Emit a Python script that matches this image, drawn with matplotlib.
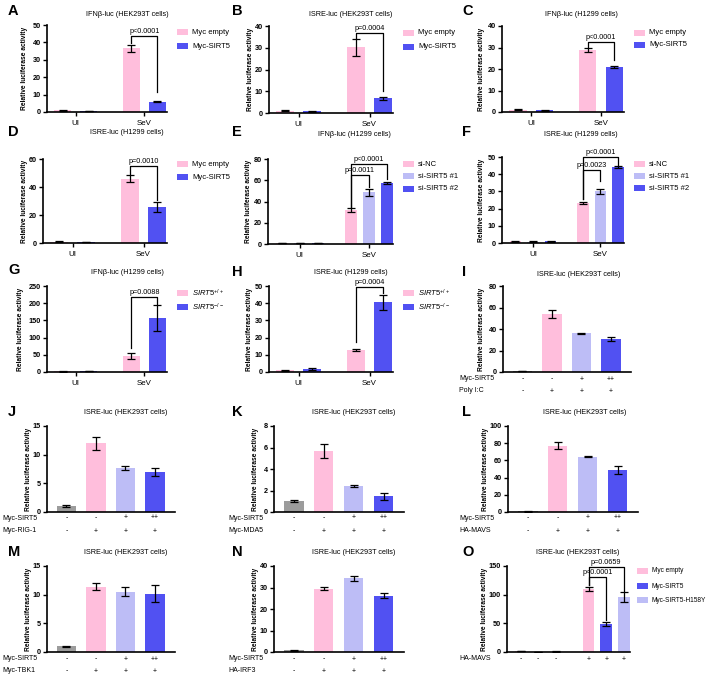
import matplotlib
matplotlib.use('Agg')
import matplotlib.pyplot as plt
from matplotlib.patches import Rectangle
from matplotlib.transforms import blended_transform_factory
import numpy as np

plt.rcParams['font.family'] = ['Liberation Sans', 'DejaVu Sans']
plt.rcParams['mathtext.fontset'] = 'custom'
plt.rcParams['mathtext.rm'] = 'Liberation Sans'
plt.rcParams['mathtext.it'] = 'Liberation Sans:italic'

W, H = 709, 676
fig = plt.figure(figsize=(W / 100, H / 100), dpi=100)

PINK = '#FFBEDC'
LAV = '#BDBDF6'
BLUE = '#5151F2'
GRAY = '#9C9C9C'

# ---------------- data ----------------
groups = ['UI', 'SeV']
ylabel = 'Relative luciferase activity'

# A  IFNb-luc HEK293T
A_empty = [1.0, 36.5]
A_empty_err = [0.2, 2.2]
A_sirt5 = [0.7, 6.0]
A_sirt5_err = [0.15, 0.5]
# B  ISRE-luc HEK293T
B_empty = [1.0, 30.2]
B_empty_err = [0.2, 3.8]
B_sirt5 = [0.8, 6.7]
B_sirt5_err = [0.15, 0.5]
# C  IFNb-luc H1299
C_empty = [1.0, 28.8]
C_empty_err = [0.2, 0.8]
C_sirt5 = [0.7, 21.0]
C_sirt5_err = [0.15, 0.4]
# D  ISRE-luc H1299
D_empty = [1.0, 46.0]
D_empty_err = [0.2, 2.5]
D_sirt5 = [0.8, 26.0]
D_sirt5_err = [0.15, 3.5]
# E  IFNb-luc H1299 siRNA
E_nc = [1.0, 32.0]
E_nc_err = [0.2, 1.5]
E_si1 = [1.0, 48.5]
E_si1_err = [0.2, 3.5]
E_si2 = [1.2, 57.5]
E_si2_err = [0.2, 1.0]
# F  ISRE-luc H1299 siRNA
F_nc = [1.0, 23.2]
F_nc_err = [0.2, 0.7]
F_si1 = [0.8, 30.0]
F_si1_err = [0.2, 1.6]
F_si2 = [1.0, 44.2]
F_si2_err = [0.2, 0.6]
# G  IFNb-luc H1299 KO
G_wt = [1.5, 47.0]
G_wt_err = [0.3, 9.0]
G_ko = [2.0, 156.0]
G_ko_err = [0.4, 38.0]
# H  ISRE-luc H1299 KO
H_wt = [1.0, 13.0]
H_wt_err = [0.2, 0.5]
H_ko = [1.8, 40.5]
H_ko_err = [0.4, 4.5]

# 4-bar panels (I..N)
I_vals = [0.8, 54.0, 36.0, 30.5]
I_err = [0.3, 3.5, 0.3, 1.6]
J_vals = [1.0, 12.0, 7.65, 7.0]
J_err = [0.2, 1.1, 0.35, 0.7]
K_vals = [1.0, 5.65, 2.4, 1.45]
K_err = [0.08, 0.65, 0.12, 0.3]
L_vals = [0.8, 77.0, 64.0, 49.0]
L_err = [0.3, 4.0, 0.6, 5.0]
M_vals = [1.0, 11.4, 10.5, 10.2]
M_err = [0.12, 0.6, 0.8, 1.4]
N_vals = [0.8, 29.5, 34.3, 26.2]
N_err = [0.2, 0.8, 1.2, 1.1]
sirt5_row = ['-', '-', '+', '++']
stim_row = ['-', '+', '+', '+']

# O
O_groups = ['-', '+']
O_empty = [1.5, 110.0]
O_empty_err = [0.3, 4.0]
O_sirt5 = [0.4, 49.0]
O_sirt5_err = [0.2, 4.0]
O_mut = [0.8, 96.0]
O_mut_err = [0.2, 9.0]


# ---------------- helpers ----------------
def px_ax(l, t, r, b, ylim, yticks, lab_off=17):
    ax = fig.add_axes([l / W, 1 - b / H, (r - l) / W, (b - t) / H])
    for s in ['top', 'right']:
        ax.spines[s].set_visible(False)
    for s in ['left', 'bottom']:
        ax.spines[s].set_linewidth(1.2)
    ax.set_ylim(*ylim)
    ax.set_yticks(yticks)
    ax.set_yticklabels([str(t) for t in yticks], fontsize=5.2, fontweight='bold')
    ax.tick_params(axis='y', length=3, width=1, pad=1.5)
    ax.tick_params(axis='x', length=3, width=1, pad=2.5, labelsize=5.7)
    ax.set_ylabel(ylabel, fontsize=4.8, fontweight='bold')
    ax.yaxis.set_label_coords(-lab_off / (r - l), 0.5)
    return ax


def bars(ax, x, vals, errs, color, width):
    ax.bar(x, vals, width, color=color, zorder=2, linewidth=0)
    ax.errorbar(x, vals, yerr=errs, fmt='none', ecolor='black', elinewidth=0.9,
                capsize=2.6, capthick=0.9, zorder=3)


def grouped(ax, series, colors, offsets, width, xlim):
    x = np.arange(len(groups))
    for (v, e), c, o in zip(series, colors, offsets):
        bars(ax, x + o, v, e, c, width)
    ax.set_xlim(*xlim)
    ax.set_xticks(x)
    ax.set_xticklabels(groups)


def bracket(ax, x1, x2, y, y1, y2, text, dy):
    ax.plot([x1, x1, x2, x2], [y1, y, y, y2], color='black', lw=0.9, clip_on=False,
            zorder=4)
    ax.text((x1 + x2) / 2, y + dy, text, ha='center', va='bottom', fontsize=5.2,
            clip_on=False)


def legend(x, ys, colors, labels, w=11, h=6, fs=5.5):
    for y, c, lab in zip(ys, colors, labels):
        fig.add_artist(Rectangle((x / W, 1 - (y + h / 2) / H), w / W, h / H,
                                 transform=fig.transFigure, color=c, lw=0))
        fig.text((x + w + 4) / W, 1 - y / H, lab, fontsize=fs, va='center',
                 ha='left')


def title(cx, y, s):
    fig.text(cx / W, 1 - y / H, s, fontsize=5.2, ha='center', va='center')


def letter(x, y, s):
    fig.text(x / W, 1 - y / H, s, fontsize=10.5, fontweight='bold', ha='left',
             va='center')


def table(ax, xs, rows, names, ys, lx):
    tr = blended_transform_factory(ax.transData, fig.transFigure)
    for row, name, y in zip(rows, names, ys):
        fig.text(lx / W, 1 - y / H, name, fontsize=5.0, ha='left', va='center')
        for xx, m in zip(xs, row):
            ax.text(xx, 1 - y / H, m, transform=tr, fontsize=5.0, ha='center',
                    va='center')


two_off = [-0.19, 0.19]
two_w = 0.25
two_xlim = (-0.42, 1.33)
three_off = [-0.26, 0.0, 0.26]
three_w = 0.17
three_xlim = (-0.46, 1.35)

# ---------------- Row 1 ----------------
letter(8, 11, 'A')
title(127, 14, 'IFNβ-luc (HEK293T cells)')
ax = px_ax(47, 25, 167, 112, (0, 50), [0, 10, 20, 30, 40, 50], 19)
grouped(ax, [(A_empty, A_empty_err), (A_sirt5, A_sirt5_err)], [PINK, BLUE],
        two_off, two_w, two_xlim)
bracket(ax, 1 - 0.19, 1 + 0.19, 43.7, 39.8, 11.7, 'p<0.0001', 0.6)
legend(177, [32, 46], [PINK, BLUE], ['Myc empty', 'Myc-SIRT5'])

letter(232, 11, 'B')
title(351, 14, 'ISRE-luc (HEK293T cells)')
ax = px_ax(269, 26, 393, 113, (0, 40), [0, 10, 20, 30, 40], 15)
grouped(ax, [(B_empty, B_empty_err), (B_sirt5, B_sirt5_err)], [PINK, BLUE],
        two_off, two_w, two_xlim)
bracket(ax, 1 - 0.19, 1 + 0.19, 36.9, 34.6, 10.3, 'p=0.0004', 0.5)
legend(403, [33, 47], [PINK, BLUE], ['Myc empty', 'Myc-SIRT5'])

letter(462, 11, 'C')
title(581, 14, 'IFNβ-luc (H1299 cells)')
ax = px_ax(502, 26, 624, 112, (0, 40), [0, 10, 20, 30, 40], 17)
grouped(ax, [(C_empty, C_empty_err), (C_sirt5, C_sirt5_err)], [PINK, BLUE],
        two_off, two_w, two_xlim)
bracket(ax, 1 - 0.19, 1 + 0.19, 32.7, 30.3, 24.2, 'p<0.0001', 0.5)
legend(634, [33, 45], [PINK, BLUE], ['Myc empty', 'Myc-SIRT5'])

# ---------------- Row 2 ----------------
letter(8, 132, 'D')
title(127, 133, 'ISRE-luc (H1299 cells)')
ax = px_ax(43, 159, 167, 243, (0, 60), [0, 20, 40, 60], 15)
grouped(ax, [(D_empty, D_empty_err), (D_sirt5, D_sirt5_err)], [PINK, BLUE],
        two_off, two_w, two_xlim)
bracket(ax, 1 - 0.19, 1 + 0.19, 55.0, 49.5, 30.5, 'p=0.0010', 0.8)
legend(177, [164, 177], [PINK, BLUE], ['Myc empty', 'Myc-SIRT5'])

letter(232, 132, 'E')
title(354, 134, 'IFNβ-luc (H1299 cells)')
ax = px_ax(268, 159, 393, 244, (0, 80), [0, 20, 40, 60, 80], 16)
grouped(ax, [(E_nc, E_nc_err), (E_si1, E_si1_err), (E_si2, E_si2_err)],
        [PINK, LAV, BLUE], three_off, three_w, three_xlim)
bracket(ax, 1 - 0.26, 1.26, 75.0, 35.0, 61.0, 'p<0.0001', 1.0)
bracket(ax, 1 - 0.26, 1.0, 65.0, 35.0, 54.0, 'p=0.0011', 1.0)
legend(403, [164, 176, 189], [PINK, LAV, BLUE], ['si-NC', 'si-SIRT5 #1', 'si-SIRT5 #2'])

letter(462, 132, 'F')
title(581, 134, 'ISRE-luc (H1299 cells)')
ax = px_ax(502, 157, 624, 243, (0, 50), [0, 10, 20, 30, 40, 50], 17)
grouped(ax, [(F_nc, F_nc_err), (F_si1, F_si1_err), (F_si2, F_si2_err)],
        [PINK, LAV, BLUE], three_off, three_w, three_xlim)
bracket(ax, 1 - 0.26, 1.26, 49.8, 25.5, 45.5, 'p<0.0001', 0.6)
bracket(ax, 1 - 0.26, 1.0, 42.4, 25.5, 36.0, 'p=0.0023', 0.6)
legend(634, [164, 176, 188], [PINK, LAV, BLUE], ['si-NC', 'si-SIRT5 #1', 'si-SIRT5 #2'])

# ---------------- Row 3 ----------------
letter(8, 270, 'G')
title(127, 273, 'IFNβ-luc (H1299 cells)')
ax = px_ax(47, 286, 167, 372, (0, 250), [0, 50, 100, 150, 200, 250], 23)
grouped(ax, [(G_wt, G_wt_err), (G_ko, G_ko_err)], [PINK, BLUE],
        two_off, two_w, two_xlim)
bracket(ax, 1 - 0.19, 1 + 0.19, 219, 69, 197, 'p=0.0088', 3)
legend(177, [293, 307], [PINK, BLUE],
       [r'$\mathit{SIRT5}^{+/+}$', r'$\mathit{SIRT5}^{-/-}$'])

letter(232, 272, 'H')
title(351, 273, 'ISRE-luc (H1299 cells)')
ax = px_ax(269, 286, 393, 372, (0, 50), [0, 10, 20, 30, 40, 50], 16)
grouped(ax, [(H_wt, H_wt_err), (H_ko, H_ko_err)], [PINK, BLUE],
        two_off, two_w, two_xlim)
bracket(ax, 1 - 0.19, 1 + 0.19, 49.6, 17.6, 46.0, 'p=0.0004', 0.5)
legend(403, [293, 307], [PINK, BLUE],
       [r'$\mathit{SIRT5}^{+/+}$', r'$\mathit{SIRT5}^{-/-}$'])

four_x = np.arange(4)
four_cols = [GRAY, PINK, LAV, BLUE]
four_xlim = (-0.66, 3.68)


def four_panel(l, t, r, b, ylim, yticks, vals, errs, lab_off, stim_name, lx,
               row_ys):
    ax = px_ax(l, t, r, b, ylim, yticks, lab_off)
    for xx, v, e, c in zip(four_x, vals, errs, four_cols):
        bars(ax, [xx], [v], [e], c, 0.65)
    ax.set_xlim(*four_xlim)
    ax.set_xticks([])
    table(ax, four_x, [sirt5_row, stim_row], ['Myc-SIRT5', stim_name], row_ys, lx)
    return ax


letter(462, 272, 'I')
title(579, 274, 'ISRE-luc (HEK293T cells)')
four_panel(503, 286, 631, 372, (0, 80), [0, 20, 40, 60, 80], I_vals, I_err, 18,
           'Poly I:C', 459, [379, 391])

# ---------------- Row 4 ----------------
letter(8, 412, 'J')
title(126, 412, 'ISRE-luc (HEK293T cells)')
four_panel(47, 426, 175, 512, (0, 15), [0, 5, 10, 15], J_vals, J_err, 15,
           'Myc-RIG-1', 2, [518, 531])

letter(232, 412, 'K')
title(354, 412, 'ISRE-luc (HEK293T cells)')
four_panel(274, 426, 404, 512, (0, 8), [0, 2, 4, 6, 8], K_vals, K_err, 15,
           'Myc-MDA5', 228, [518, 531])

letter(462, 412, 'L')
title(585, 412, 'ISRE-luc (HEK293T cells)')
four_panel(508, 426, 638, 512, (0, 100), [0, 20, 40, 60, 80, 100], L_vals, L_err,
           19, 'HA-MAVS', 459, [518, 531])

# ---------------- Row 5 ----------------
letter(8, 552, 'M')
title(126, 552, 'ISRE-luc (HEK293T cells)')
four_panel(47, 566, 175, 652, (0, 15), [0, 5, 10, 15], M_vals, M_err, 15,
           'Myc-TBK1', 2, [659, 671])

letter(232, 552, 'N')
title(354, 552, 'ISRE-luc (HEK293T cells)')
four_panel(274, 566, 404, 652, (0, 40), [0, 10, 20, 30, 40], N_vals, N_err, 15,
           'HA-IRF3', 228, [659, 671])

letter(462, 552, 'O')
title(578, 552, 'ISRE-luc (HEK293T cells)')
ax = px_ax(507, 566, 630, 652, (0, 150), [0, 50, 100, 150], 19)
ox = np.arange(2)
for (v, e), c, o in zip([(O_empty, O_empty_err), (O_sirt5, O_sirt5_err),
                         (O_mut, O_mut_err)], [PINK, BLUE, LAV], three_off):
    bars(ax, ox + o, v, e, c, three_w)
ax.set_xlim(*three_xlim)
ax.set_xticks([])
bracket(ax, 1 - 0.26, 1.26, 148, 116, 107, 'p=0.0659', 1.5)
bracket(ax, 1 - 0.26, 1.0, 131, 116, 55, 'p<0.0001', 1.5)
O_x = [g + o for g in ox for o in three_off]
table(ax, O_x, [['-'] * 3 + ['+'] * 3], ['HA-MAVS'], [659], 459)
legend(637, [571, 586, 600], [PINK, BLUE, LAV],
       ['Myc empty', 'Myc-SIRT5', 'Myc-SIRT5-H158Y'], w=11, h=6, fs=4.7)

fig.savefig('out.png', dpi=100)
